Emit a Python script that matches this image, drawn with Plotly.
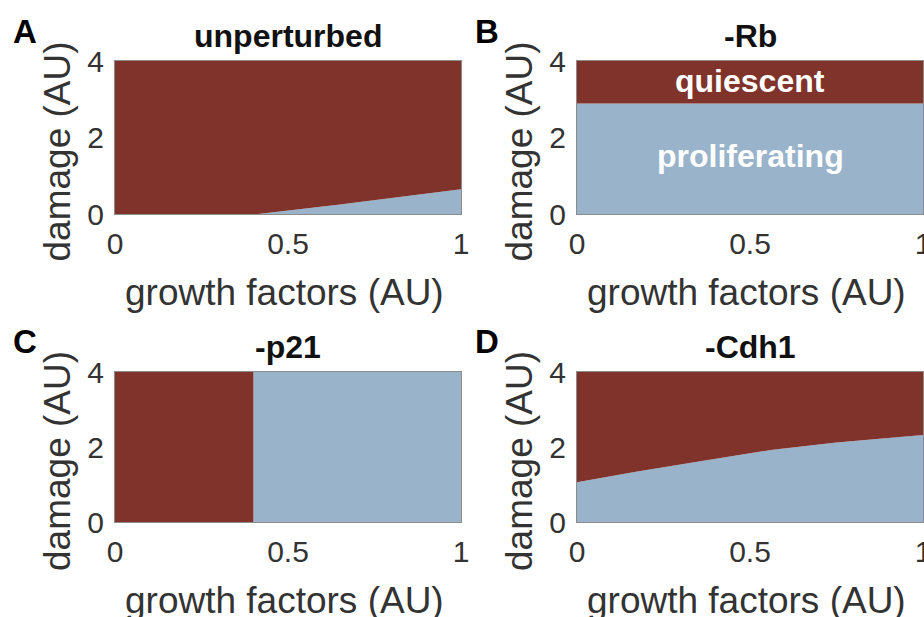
import plotly.graph_objects as go

# ---- data ----
panel_letters = ["A", "B", "C", "D"]
panel_titles = ["unperturbed", "-Rb", "-p21", "-Cdh1"]

# proliferation boundary: damage threshold as a function of growth factors
gf_A = [0.0, 0.414, 0.65, 0.843, 1.0]
dmg_A = [0.0, 0.0, 0.25, 0.48, 0.65]

gf_B = [0.0, 1.0]
dmg_B = [2.89, 2.89]

gf_C = [0.0, 0.40, 0.40, 1.0]
dmg_C = [0.0, 0.0, 4.0, 4.0]

gf_D = [0.0, 0.17, 0.37, 0.56, 0.75, 1.0]
dmg_D = [1.06, 1.34, 1.64, 1.92, 2.12, 2.32]

x_ticks = [0, 0.5, 1]
x_tick_labels = ["0", "0.5", "1"]
y_ticks = [0, 2, 4]
y_tick_labels = ["0", "2", "4"]
y_max = 4

x_title = "growth factors (AU)"
y_title = "damage (AU)"
region_labels = ["quiescent", "proliferating"]

# ---- style ----
RED = "#7F332B"
BLUE = "#99B3CB"
W, H = 924, 617
FONT = "Liberation Sans, Arial, Helvetica, sans-serif"
TXT = "#333333"

# pixel geometry of the four plot areas (left, right, top, bottom)
boxes = [(115, 461, 61, 214), (577, 923, 61, 214),
         (115, 461, 372, 522), (577, 923, 372, 522)]


def px(xs):
    return xs / W


def py(ys):
    return 1 - ys / H


data = [(gf_A, dmg_A), (gf_B, dmg_B), (gf_C, dmg_C), (gf_D, dmg_D)]

fig = go.Figure()
layout = {}
annotations = []

for i, ((gx, gy), (l, r, t, b)) in enumerate(zip(data, boxes)):
    n = i + 1
    xa = "x" if n == 1 else f"x{n}"
    ya = "y" if n == 1 else f"y{n}"
    # proliferating region (below boundary)
    fig.add_trace(go.Scatter(x=gx, y=gy, mode="lines", line=dict(width=0, color=BLUE),
                             fill="tozeroy", fillcolor=BLUE, xaxis=xa, yaxis=ya,
                             showlegend=False, hoverinfo="skip"))
    # quiescent region (above boundary)
    fig.add_trace(go.Scatter(x=gx, y=[y_max] * len(gx), mode="lines",
                             line=dict(width=0, color=RED),
                             fill="tonexty", fillcolor=RED, xaxis=xa, yaxis=ya,
                             showlegend=False, hoverinfo="skip"))
    xk = "xaxis" if n == 1 else f"xaxis{n}"
    yk = "yaxis" if n == 1 else f"yaxis{n}"
    layout[xk] = dict(domain=[px(l), min(px(r), 1.0)], anchor=ya, range=[0, 1],
                      tickvals=x_ticks, ticktext=x_tick_labels,
                      tickfont=dict(family=FONT, size=30, color=TXT),
                      showgrid=False, zeroline=False, showline=True,
                      linecolor="#8c8c8c", linewidth=1, mirror=True,
                      ticks="", ticklabelstandoff=3, fixedrange=True,
                      ticklabeloverflow="allow", automargin=False)
    layout[yk] = dict(domain=[py(b), py(t)], anchor=xa, range=[0, y_max],
                      tickvals=y_ticks, ticktext=y_tick_labels,
                      tickfont=dict(family=FONT, size=30, color=TXT),
                      showgrid=False, zeroline=False, showline=True,
                      linecolor="#8c8c8c", linewidth=1, mirror=True,
                      ticks="", ticklabelstandoff=4, fixedrange=True,
                      ticklabeloverflow="allow", automargin=False)
    cx = (l + r) / 2
    # panel title
    annotations.append(dict(text=f"<b>{panel_titles[i]}</b>", x=px(cx), y=py(t - 25),
                            xref="paper", yref="paper", showarrow=False,
                            xanchor="center", yanchor="middle",
                            font=dict(family=FONT, size=32, color="#111111")))
    # panel letter
    annotations.append(dict(text=f"<b>{panel_letters[i]}</b>", x=px(l - 90), y=py(t - 30),
                            xref="paper", yref="paper", showarrow=False,
                            xanchor="center", yanchor="middle",
                            font=dict(family=FONT, size=33, color="#000000")))
    # x axis title
    annotations.append(dict(text=x_title, x=px(cx - 4), y=py(b + 78),
                            xref="paper", yref="paper", showarrow=False,
                            xanchor="center", yanchor="middle",
                            font=dict(family=FONT, size=37, color=TXT)))
    # y axis title
    annotations.append(dict(text=y_title, x=px(l - 58), y=py((t + b) / 2 + 14),
                            xref="paper", yref="paper", showarrow=False, textangle=-90,
                            xanchor="center", yanchor="middle",
                            font=dict(family=FONT, size=37, color=TXT)))

# region labels in panel B
annotations.append(dict(text=f"<b>{region_labels[0]}</b>", x=0.5, y=3.47, xref="x2", yref="y2",
                        showarrow=False, font=dict(family=FONT, size=32, color="white")))
annotations.append(dict(text=f"<b>{region_labels[1]}</b>", x=0.5, y=1.52, xref="x2", yref="y2",
                        showarrow=False, font=dict(family=FONT, size=32, color="white")))

fig.update_layout(width=W, height=H, margin=dict(l=0, r=0, t=0, b=0, autoexpand=False),
                  paper_bgcolor="white", plot_bgcolor="white",
                  annotations=annotations, **layout)

fig.write_html("out.html", config={"displayModeBar": False},
               post_script="document.body.style.margin='0';document.body.style.overflow='hidden';")
